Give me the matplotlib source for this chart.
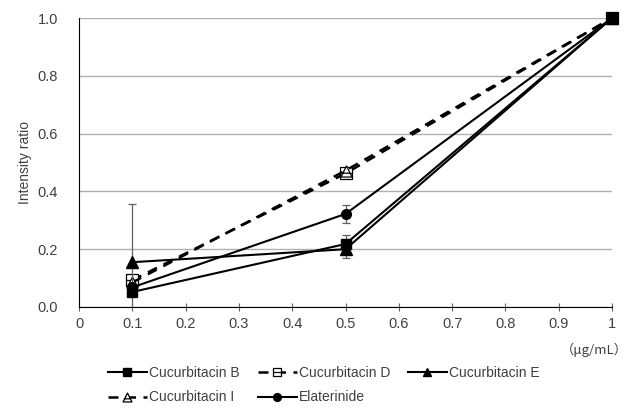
import matplotlib.pyplot as plt
from matplotlib.path import Path
from matplotlib.lines import Line2D

plt.rcParams['font.family'] = ['Liberation Sans', 'DejaVu Sans']

# --- Data ---
conc = [0.1, 0.5, 1.0]
cuc_b = [0.052, 0.218, 1.0]
cuc_b_err = [0.0, 0.03, 0.0]
cuc_d = [0.093, 0.462, 1.0]
cuc_d_err = [0.0, 0.0, 0.0]
cuc_e = [0.155, 0.200, 1.0]
cuc_e_err = [0.20, 0.03, 0.0]
cuc_i = [0.085, 0.472, 1.0]
cuc_i_err = [0.0, 0.0, 0.0]
elat = [0.068, 0.322, 1.0]
elat_err = [0.0, 0.03, 0.0]

x_ticks = [0, 0.1, 0.2, 0.3, 0.4, 0.5, 0.6, 0.7, 0.8, 0.9, 1.0]
x_tick_labels = ['0', '0.1', '0.2', '0.3', '0.4', '0.5', '0.6', '0.7', '0.8', '0.9', '1']
y_ticks = [0.0, 0.2, 0.4, 0.6, 0.8, 1.0]

txt = '#404040'

# square with a bar through the middle, triangle with a bar near the base
sq_bar = Path([(-1, -1), (1, -1), (1, 1), (-1, 1), (-1, -1), (-1, 0), (1, 0)],
              [Path.MOVETO, Path.LINETO, Path.LINETO, Path.LINETO, Path.CLOSEPOLY,
               Path.MOVETO, Path.LINETO])
tri_bar = Path([(0, 1), (-1, -1), (1, -1), (0, 1), (-0.6, -0.3), (0.6, -0.3)],
               [Path.MOVETO, Path.LINETO, Path.LINETO, Path.CLOSEPOLY,
                Path.MOVETO, Path.LINETO])

# style per series (used for the plot and for the legend handles)
styles = {
    'Cucurbitacin B': dict(color='black', lw=1.5, ls='-', marker='s', ms=7),
    'Cucurbitacin D': dict(color='black', lw=1.8, ls=(0, (4, 3)), marker=sq_bar, ms=8,
                           mfc='white', mec='black', mew=0.9),
    'Cucurbitacin E': dict(color='black', lw=1.5, ls='-', marker='^', ms=8),
    'Cucurbitacin I': dict(color='black', lw=1.8, ls=(0, (4, 3)), marker=tri_bar, ms=8,
                           mfc='white', mec='black', mew=0.9),
    'Elaterinide': dict(color='black', lw=1.5, ls='-', marker='o', ms=7),
}

fig = plt.figure(figsize=(6.38, 4.08), dpi=100)
ax = fig.add_axes([79 / 638, 1 - 307 / 408, 533 / 638, 289 / 408])

err_kw = dict(ecolor='#606060', elinewidth=0.9, capsize=3, capthick=0.9)

series = [
    ('Cucurbitacin D', cuc_d, cuc_d_err, 3),
    ('Cucurbitacin I', cuc_i, cuc_i_err, 3),
    ('Cucurbitacin B', cuc_b, cuc_b_err, 4),
    ('Cucurbitacin E', cuc_e, cuc_e_err, 4),
    ('Elaterinide', elat, elat_err, 4),
]
for name, vals, errs, z in series:
    line, caps, bars = ax.errorbar(conc, vals, yerr=errs, zorder=z, **styles[name], **err_kw)
    line.set_clip_on(False)

ax.set_xlim(0, 1.0)
ax.set_ylim(0, 1.0)
ax.set_xticks(x_ticks)
ax.set_xticklabels(x_tick_labels, color=txt, fontsize=10.5)
ax.set_yticks(y_ticks)
ax.set_yticklabels(['%.1f' % v for v in y_ticks], color=txt, fontsize=10.5)
ax.set_ylabel('Intensity ratio', color=txt, fontsize=10, labelpad=4)

ax.yaxis.grid(True, color='#b0b0b0', lw=1.0)
ax.set_axisbelow(True)
for s in ['top', 'right']:
    ax.spines[s].set_visible(False)
ax.spines['left'].set_color('black')
ax.spines['bottom'].set_color('black')
ax.tick_params(axis='y', length=0, pad=15)
ax.tick_params(axis='x', direction='inout', length=6, color='#606060', pad=4)

fig.text(628 / 638, 1 - 350 / 408, '\uff08\u03bcg/mL\uff09', ha='right', va='center',
         color=txt, fontsize=9.5, family=['Noto Sans CJK JP', 'DejaVu Sans'])

# row-wise order: B, D, E / I, Elaterinide
order = ['Cucurbitacin B', 'Cucurbitacin I', 'Cucurbitacin D', 'Elaterinide', 'Cucurbitacin E']
handles = []
for name in order:
    st = dict(styles[name])
    st['ms'] = st['ms'] * 0.8
    handles.append(Line2D([], [], **st))
leg = fig.legend(handles, order,
                 loc='upper left', bbox_to_anchor=(108 / 638, 1 - 366 / 408), ncol=3,
                 frameon=False, fontsize=10, handlelength=2.8, columnspacing=1.3,
                 handletextpad=0.15, labelspacing=0.75, borderpad=0, borderaxespad=0)
for t in leg.get_texts():
    t.set_color(txt)

fig.savefig('out.png', dpi=100)
